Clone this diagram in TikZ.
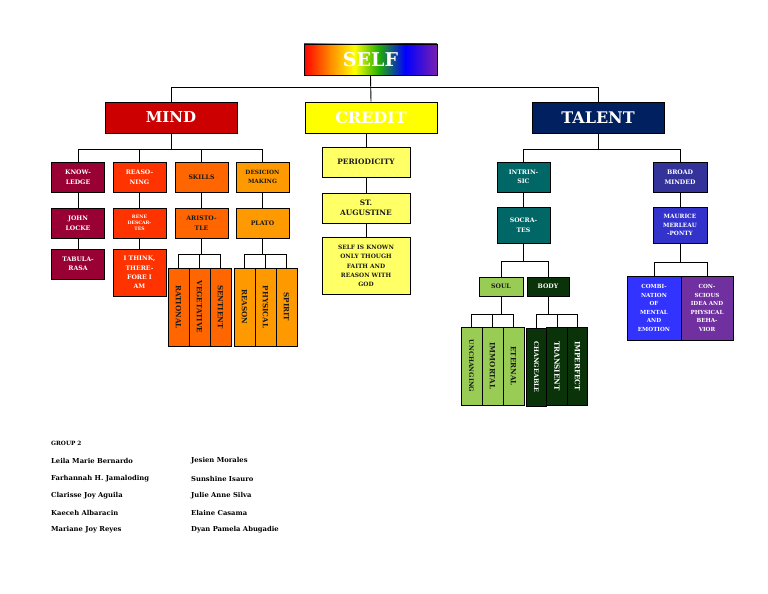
\documentclass[tikz,border=0pt]{standalone}
\usepackage{fontspec}
\setmainfont{DejaVu Serif}
\usetikzlibrary{calc}
\definecolor{cRed}{HTML}{CC0000}
\definecolor{cYel}{HTML}{FFFF00}
\definecolor{cNavy}{HTML}{002060}
\definecolor{cMaroon}{HTML}{990033}
\definecolor{cRO}{HTML}{FF3300}
\definecolor{cOr}{HTML}{FF6600}
\definecolor{cLOr}{HTML}{FF9900}
\definecolor{cLYel}{HTML}{FFFF66}
\definecolor{cTeal}{HTML}{006666}
\definecolor{cSlate}{HTML}{333399}
\definecolor{cBlue}{HTML}{3333CC}
\definecolor{cBBlue}{HTML}{3333FF}
\definecolor{cPurp}{HTML}{7030A0}
\definecolor{cLGreen}{HTML}{99CC55}
\definecolor{cDGreen}{HTML}{0A330A}
\definecolor{cInk}{HTML}{1A1A1A}
\definecolor{rOrange}{HTML}{FF8C00}
\definecolor{rGreen}{HTML}{22B000}
\definecolor{rViolet}{HTML}{7A1FB0}
\pgfdeclarehorizontalshading{rainbow}{100bp}{color(0bp)=(red); color(25bp)=(red); color(35bp)=(rOrange); color(44bp)=(yellow); color(53bp)=(rGreen); color(63bp)=(blue); color(75bp)=(rViolet); color(100bp)=(rViolet)}
\tikzset{
  box/.style={draw=black, line width=0.9pt, inner sep=0.5pt, align=center,
    font=\bfseries\fontsize{6.2}{9.5}\selectfont},
  title/.style={box, minimum width=132, minimum height=31, text=white,
    font=\bfseries\fontsize{16}{18}\selectfont},
  sbox/.style={box, minimum width=53, minimum height=30},
  vbox/.style={box, rotate=-90, minimum width=78, minimum height=21,
    font=\bfseries\fontsize{7.2}{8}\selectfont},
  conn/.style={draw=black, line width=0.9pt},
  names/.style={anchor=west, inner sep=0, font=\bfseries\fontsize{6.8}{8}\selectfont}
}
\begin{document}
\begin{tikzpicture}[x=1pt,y=-1pt]
\useasboundingbox (0,0) rectangle (768,594);
\fill[white] (0,0) rectangle (768,594);
% top
\node[title, shading=rainbow, minimum width=133, font=\bfseries\fontsize{19}{20}\selectfont] (self) at (370.5,59.5) {SELF};
\node[title, fill=cRed, font=\bfseries\fontsize{15}{18}\selectfont] (mind) at (171,117.5) {MIND};
\node[title, fill=cYel] (credit) at (371,117.5) {CREDIT};
\node[title, fill=cNavy] (talent) at (598,117.5) {TALENT};
\draw[conn] (self.south) -- (credit.north);
\draw[conn] (mind.north) -- (mind.north |- 0,87) -- (talent.north |- 0,87) -- (talent.north);
% MIND branch
\node[sbox, fill=cMaroon, text=white] (know) at (78,177) {KNOW-\\LEDGE};
\node[sbox, fill=cRO, text=white] (reas) at (139.5,177) {REASO-\\NING};
\node[sbox, fill=cOr, text=cInk] (skills) at (201.5,177) {SKILLS};
\node[sbox, fill=cLOr, text=cInk, font=\bfseries\fontsize{5.8}{9}\selectfont] (dec) at (262.5,177) {DESICION\\MAKING};
\node[sbox, fill=cMaroon, text=white] (locke) at (78,223) {JOHN\\LOCKE};
\node[sbox, fill=cRO, text=white, font=\bfseries\fontsize{4.6}{6.2}\selectfont] (rene) at (139.5,223) {RENE\\DESCAR-\\TES};
\node[sbox, fill=cOr, text=cInk] (aris) at (201.5,223) {ARISTO-\\TLE};
\node[sbox, fill=cLOr, text=cInk] (plato) at (262.5,223) {PLATO};
\node[sbox, fill=cMaroon, text=white] (tabula) at (78,264) {TABULA-\\RASA};
\node[sbox, fill=cRO, text=white, minimum height=47, font=\bfseries\fontsize{6.2}{9.2}\selectfont] (think) at (139.5,272.5) {I THINK,\\THERE-\\FORE I\\AM};
\node[vbox, fill=cOr, text=cInk] (rat) at (178.5,307) {RATIONAL};
\node[vbox, fill=cOr, text=cInk] (veg) at (199.5,307) {VEGETATIVE};
\node[vbox, fill=cOr, text=cInk] (sen) at (220.5,307) {SENTIENT};
\node[vbox, fill=cLOr, text=cInk] (rsn) at (244.5,307) {REASON};
\node[vbox, fill=cLOr, text=cInk] (phy) at (265.5,307) {PHYSICAL};
\node[vbox, fill=cLOr, text=cInk] (spi) at (286.5,307) {SPIRIT};
\draw[conn] (mind.south) -- (mind.south |- 0,149);
\draw[conn] (know.north) -- (know.north |- 0,149) -- (dec.north |- 0,149) -- (dec.north);
\draw[conn] (reas.north) -- (reas.north |- 0,149);
\draw[conn] (skills.north) -- (skills.north |- 0,149);
\draw[conn] (know) -- (locke);
\draw[conn] (locke) -- (tabula);
\draw[conn] (reas) -- (rene);
\draw[conn] (rene) -- (think);
\draw[conn] (skills) -- (aris);
\draw[conn] (dec) -- (plato);
\draw[conn] (aris.south) -- (aris.south |- 0,254);
\draw[conn] (rat.west) -- (rat.west |- 0,254) -- (sen.west |- 0,254) -- (sen.west);
\draw[conn] (veg.west) -- (veg.west |- 0,254);
\draw[conn] (plato.south) -- (plato.south |- 0,254);
\draw[conn] (rsn.west) -- (rsn.west |- 0,254) -- (spi.west |- 0,254) -- (spi.west);
\draw[conn] (phy.west) -- (phy.west |- 0,254);
% CREDIT branch
\node[box, fill=cLYel, text=cInk, minimum width=88, minimum height=30, font=\bfseries\fontsize{7.4}{10}\selectfont] (peri) at (366,162) {PERIODICITY};
\node[box, fill=cLYel, text=cInk, minimum width=88, minimum height=30, font=\bfseries\fontsize{7.4}{10}\selectfont] (aug) at (366,208) {ST.\\AUGUSTINE};
\node[box, fill=cLYel, text=cInk, minimum width=88, minimum height=57, font=\bfseries\fontsize{5.9}{9.3}\selectfont] (selfk) at (366,266) {SELF IS KNOWN\\ONLY THOUGH\\FAITH AND\\REASON WITH\\GOD};
\draw[conn] (credit.south -| peri.north) -- (peri.north);
\draw[conn] (peri) -- (aug);
\draw[conn] (aug) -- (selfk);
% TALENT branch
\node[sbox, fill=cTeal, text=white] (intr) at (523.5,177) {INTRIN-\\SIC};
\node[sbox, fill=cSlate, text=white, minimum width=54] (broad) at (680,177) {BROAD\\MINDED};
\node[sbox, fill=cTeal, text=white, minimum height=36] (socr) at (523.5,225) {SOCRA-\\TES};
\node[sbox, fill=cBlue, text=white, minimum width=54, minimum height=36, font=\bfseries\fontsize{5.8}{8.2}\selectfont] (maur) at (680,225) {MAURICE\\MERLEAU\\-PONTY};
\draw[conn] (talent.south) -- (talent.south |- 0,149);
\draw[conn] (intr.north) -- (intr.north |- 0,149) -- (broad.north |- 0,149) -- (broad.north);
\draw[conn] (intr) -- (socr);
\draw[conn] (broad) -- (maur);
\node[box, fill=cLGreen, text=cInk, minimum width=44, minimum height=19] (soul) at (501,286.5) {SOUL};
\node[box, fill=cDGreen, text=white, minimum width=42, minimum height=19] (body) at (548,286.5) {BODY};
\draw[conn] (socr.south) -- (socr.south |- 0,261);
\draw[conn] (soul.north) -- (soul.north |- 0,261) -- (body.north |- 0,261) -- (body.north);
\node[vbox, fill=cLGreen, text=cInk, font=\bfseries\fontsize{6.3}{7}\selectfont] (unch) at (471.5,366) {UNCHANGING};
\node[vbox, fill=cLGreen, text=cInk] (imm) at (492.5,366) {IMMORTAL};
\node[vbox, fill=cLGreen, text=cInk] (ete) at (513.5,366) {ETERNAL};
\node[vbox, fill=cDGreen, text=white, minimum height=20.5, font=\bfseries\fontsize{6.3}{7}\selectfont] (chg) at (536.5,367) {CHANGEABLE};
\node[vbox, fill=cDGreen, text=white, minimum height=20.5] (tra) at (557,366) {TRANSIENT};
\node[vbox, fill=cDGreen, text=white, minimum height=20.5] (imp) at (577.5,366) {IMPERFECT};
\draw[conn] (soul.south) -- (soul.south |- 0,314);
\draw[conn] (unch.west) -- (unch.west |- 0,314) -- (ete.west |- 0,314) -- (ete.west);
\draw[conn] (imm.west) -- (imm.west |- 0,314);
\draw[conn] (body.south) -- (body.south |- 0,314);
\draw[conn] (chg.west) -- (chg.west |- 0,314) -- (imp.west |- 0,314) -- (imp.west);
\draw[conn] (tra.west) -- (tra.west |- 0,314);
\node[box, fill=cBBlue, text=white, minimum width=54, minimum height=64, font=\bfseries\fontsize{5.6}{8.5}\selectfont] (comb) at (654,308) {COMBI-\\NATION\\OF\\MENTAL\\AND\\EMOTION};
\node[box, fill=cPurp, text=white, minimum width=52, minimum height=64, font=\bfseries\fontsize{5.6}{8.5}\selectfont] (cons) at (707,308) {CON-\\SCIOUS\\IDEA AND\\PHYSICAL\\BEHA-\\VIOR};
\draw[conn] (maur.south) -- (maur.south |- 0,262);
\draw[conn] (comb.north) -- (comb.north |- 0,262) -- (cons.north |- 0,262) -- (cons.north);
% group list
\node[names, font=\bfseries\fontsize{5.8}{7}\selectfont] (grp) at (51,443) {GROUP 2};
\node[names] (n1) at (51,461) {Leila Marie Bernardo};
\node[names] (n2) at (51,479) {Farhannah H. Jamaloding};
\node[names] (n3) at (51,496) {Clarisse Joy Aguila};
\node[names] (n4) at (51,513) {Kaeceh Albaracin};
\node[names] (n5) at (51,530) {Mariane Joy Reyes};
\node[names] (m1) at (191,461) {Jesien Morales};
\node[names] (m2) at (191,479) {Sunshine Isauro};
\node[names] (m3) at (191,496) {Julie Anne Silva};
\node[names] (m4) at (191,513) {Elaine Casama};
\node[names] (m5) at (191,530) {Dyan Pamela Abugadie};
\end{tikzpicture}
\end{document}
